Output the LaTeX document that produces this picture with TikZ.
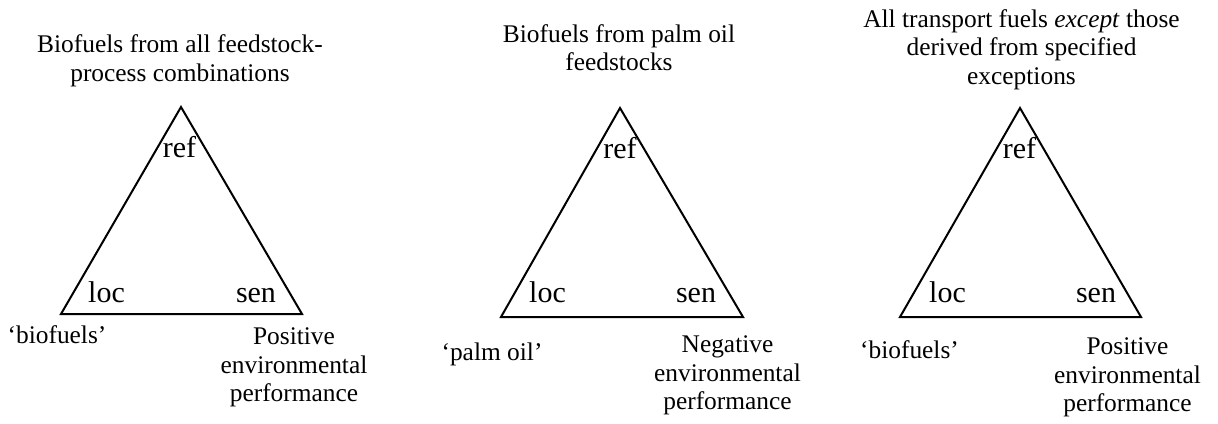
\documentclass[tikz,border=0pt]{standalone}
\usepackage{fontspec}
\setmainfont{Liberation Serif}
\begin{document}
\begin{tikzpicture}[x=1pt,y=-1pt,
  side/.style={line width=2pt,line join=miter},
  caption/.style={inner sep=0pt,align=center,anchor=north,
    font=\fontsize{25.4}{28.5}\selectfont},
  tag/.style={inner sep=0pt,anchor=base,font=\fontsize{25.4}{28.5}\selectfont},
  corner/.style={inner sep=0pt,anchor=base,font=\fontsize{30}{34}\selectfont}]
\useasboundingbox (0,0) rectangle (1218,423);

% ---- first triangle: all feedstock-process combinations
\coordinate (t1) at (181,107);
\coordinate (l1) at (61,314);
\coordinate (r1) at (302,314);
\draw[side] (t1) -- (l1) -- (r1) -- cycle;
\node[caption] (h1) at (180,34.6) {Biofuels from all feedstock-\\process combinations};
\node[corner] (ref1) at (179.5,157) {ref};
\node[corner] (loc1) at (106.5,302) {loc};
\node[corner] (sen1) at (256,302) {sen};
\node[tag] (w1) at (57,343) {‘biofuels’};
\node[caption] (p1) at (294,327.6) {Positive\\environmental\\performance};

% ---- second triangle: palm oil feedstocks
\coordinate (t2) at (620,108);
\coordinate (l2) at (501,317);
\coordinate (r2) at (743,317);
\draw[side] (t2) -- (l2) -- (r2) -- cycle;
\node[caption] (h2) at (619,24.3) {Biofuels from palm oil\\feedstocks};
\node[corner] (ref2) at (620,158) {ref};
\node[corner] (loc2) at (547.5,302) {loc};
\node[corner] (sen2) at (696,302) {sen};
\node[tag] (w2) at (492,360) {‘palm oil’};
\node[caption] (p2) at (727.5,335.6) {Negative\\environmental\\performance};

% ---- third triangle: all transport fuels with exceptions
\coordinate (t3) at (1020,108);
\coordinate (l3) at (900,317);
\coordinate (r3) at (1141,317);
\draw[side] (t3) -- (l3) -- (r3) -- cycle;
\node[caption] (h3) at (1021.5,9.3) {All transport fuels \textit{except} those\\derived from specified\\exceptions};
\node[corner] (ref3) at (1019.5,158) {ref};
\node[corner] (loc3) at (947.5,302) {loc};
\node[corner] (sen3) at (1096,302) {sen};
\node[tag] (w3) at (909.5,358) {‘biofuels’};
\node[caption] (p3) at (1127.5,337.6) {Positive\\environmental\\performance};
\end{tikzpicture}
\end{document}
